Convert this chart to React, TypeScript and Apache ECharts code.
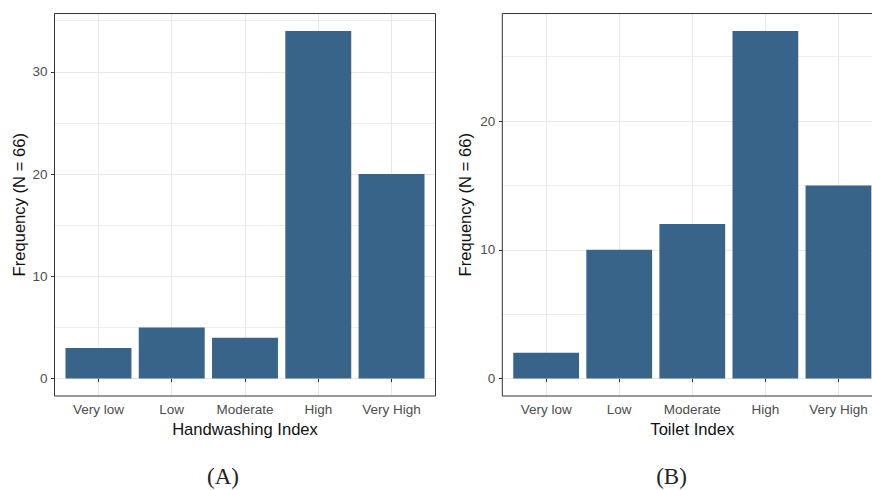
import React, { useEffect, useRef } from "react";
import * as echarts from "echarts";

const categories = ["Very low", "Low", "Moderate", "High", "Very High"];
const handwashing = [3, 5, 4, 34, 20];
const toilet = [2, 10, 12, 27, 15];
const yTicksA = [0, 10, 20, 30];
const yMinorA = [5, 15, 25, 35];
const yTicksB = [0, 10, 20];
const yMinorB = [5, 15, 25];
const xTicks = [1, 2, 3, 4, 5];

const BAR = "#38648A";
const GRID = "#E8E8E8";
const FONT = "Liberation Sans, Arial, Helvetica, sans-serif";

function panel(idx: number, values: number[], ticks: number[], minor: number[], title: string) {
  const maxV = Math.max(...values);
  const pad = maxV * 0.05;
  const xAxis = {
    type: "value",
    gridIndex: idx,
    min: 0.4,
    max: 5.6,
    axisLine: { show: false },
    axisTick: { show: true, length: 3.5, lineStyle: { color: "#333", width: 1 }, customValues: xTicks },
    axisLabel: {
      customValues: xTicks,
      color: "#4D4D4D",
      fontFamily: FONT,
      fontSize: 13.5,
      margin: 6,
      formatter: (v: number) => categories[Math.round(v) - 1] ?? "",
    },
    splitLine: { show: true, lineStyle: { color: GRID, width: 1.1 } },
    name: title,
    nameLocation: "middle",
    nameGap: 21,
    nameTextStyle: { color: "#111", fontFamily: FONT, fontSize: 16.6 },
  };
  const yAxis = {
    type: "value",
    gridIndex: idx,
    min: -pad,
    max: maxV + pad,
    axisLine: { show: false },
    axisTick: { show: true, length: 3.5, lineStyle: { color: "#333", width: 1 }, customValues: ticks },
    axisLabel: {
      customValues: ticks,
      color: "#4D4D4D",
      fontFamily: FONT,
      fontSize: 13.5,
      margin: 7,
    },
    splitLine: { show: true, lineStyle: { color: GRID, width: 1.1 } },
    name: "Frequency (N = 66)",
    nameLocation: "middle",
    nameGap: idx === 0 ? 27 : 28,
    nameTextStyle: { color: "#111", fontFamily: FONT, fontSize: 16.6 },
  };
  const series = {
    type: "bar",
    xAxisIndex: idx,
    yAxisIndex: idx,
    barWidth: "90%",
    itemStyle: { color: BAR },
    data: values.map((v, i) => [i + 1, v]),
    markLine: {
      silent: true,
      z: 1,
      symbol: ["none", "none"],
      label: { show: false },
      lineStyle: { color: GRID, width: 0.8, type: "solid" },
      data: minor.map((m) => ({ yAxis: m })),
    },
  };
  return { xAxis, yAxis, series };
}

export default function App() {
  const ref = useRef<HTMLDivElement>(null);
  useEffect(() => {
    if (!ref.current) return;
    const chart = echarts.init(ref.current, null, { renderer: "svg" });
    const a = panel(0, handwashing, yTicksA, yMinorA, "Handwashing Index");
    const b = panel(1, toilet, yTicksB, yMinorB, "Toilet Index");
    const capStyle = { fontFamily: "Liberation Serif, serif", fontSize: 23, fill: "#222", textAlign: "center", textVerticalAlign: "middle" };
    chart.setOption({
      animation: false,
      backgroundColor: "#fff",
      grid: [
        { left: 54.5, top: 13.5, width: 381, height: 382.5, show: true, borderColor: "#333", borderWidth: 1, backgroundColor: "transparent", z: 3, outerBoundsMode: "none", containLabel: false },
        { left: 502.3, top: 13.5, width: 380, height: 382.5, show: true, borderColor: "#333", borderWidth: 1, backgroundColor: "transparent", z: 3, outerBoundsMode: "none", containLabel: false },
      ],
      xAxis: [a.xAxis, b.xAxis],
      yAxis: [a.yAxis, b.yAxis],
      series: [a.series, b.series],
      graphic: [
        { type: "text", x: 223, y: 476, style: { text: "(A)", ...capStyle } },
        { type: "text", x: 671.5, y: 476, style: { text: "(B)", ...capStyle } },
      ],
    });
    return () => chart.dispose();
  }, []);
  return <div ref={ref} style={{ position: "fixed", left: 0, top: 0, width: 872, height: 490 }} />;
}
